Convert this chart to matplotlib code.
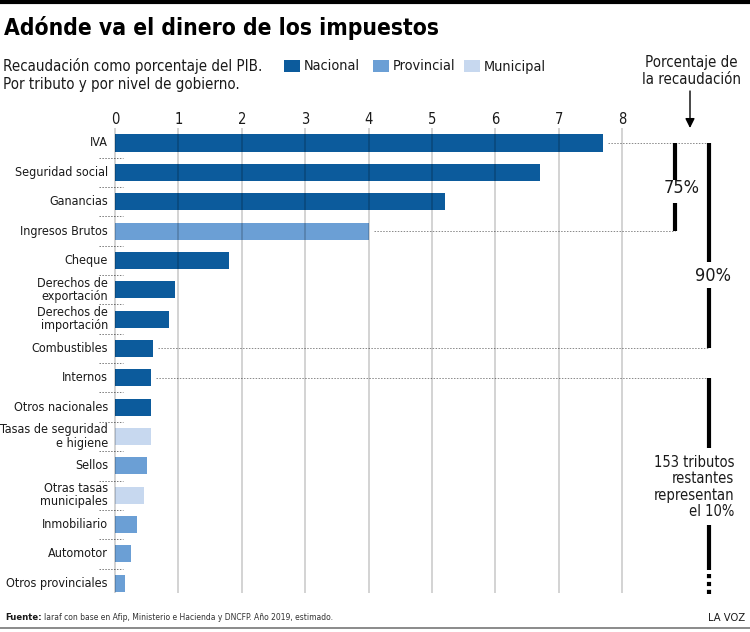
import matplotlib
matplotlib.use("Agg")
import matplotlib.pyplot as plt
from matplotlib import font_manager
from matplotlib.font_manager import FontProperties

# ---------------- data ----------------
categories = ['IVA', 'Seguridad social', 'Ganancias', 'Ingresos Brutos', 'Cheque',
              'Derechos de\nexportación', 'Derechos de\nimportación', 'Combustibles',
              'Internos', 'Otros nacionales', 'Tasas de seguridad\ne higiene', 'Sellos',
              'Otras tasas\nmunicipales', 'Inmobiliario', 'Automotor', 'Otros provinciales']
values = [7.7, 6.7, 5.2, 4.0, 1.8, 0.95, 0.85, 0.6, 0.56, 0.56, 0.56, 0.5, 0.46, 0.35, 0.25, 0.15]
levels = ['Nacional', 'Nacional', 'Nacional', 'Provincial', 'Nacional', 'Nacional', 'Nacional',
          'Nacional', 'Nacional', 'Nacional', 'Municipal', 'Provincial', 'Municipal',
          'Provincial', 'Provincial', 'Provincial']
level_names = ['Nacional', 'Provincial', 'Municipal']
xticks = [0, 1, 2, 3, 4, 5, 6, 7, 8]

colors = {'Nacional': '#0c5b9c', 'Provincial': '#6b9fd5', 'Municipal': '#c7d8ef'}

# ---------------- fonts ----------------
def find_condensed(target):
    best = None
    for f in font_manager.fontManager.ttflist:
        nm = f.name.lower()
        fn = f.fname.lower()
        if 'mono' in nm or 'serif' in nm or f.style != 'normal' or 'cjk' in nm:
            continue
        is_cond = ('condensed' in nm or 'narrow' in nm or 'condensed' in fn
                   or 'narrow' in fn or str(f.stretch) in ('condensed', 'semi-condensed', 'extra-condensed'))
        if not is_cond:
            continue
        w = f.weight if isinstance(f.weight, int) else (700 if 'bold' in str(f.weight) else 400)
        score = abs(w - target) + (50 if 'extra' in fn or 'ultra' in fn else 0)
        if best is None or score < best[0]:
            best = (score, f.fname)
    return best[1] if best else None

reg_file = find_condensed(400)
bold_file = find_condensed(700)
if reg_file:
    FP = lambda s: FontProperties(fname=reg_file, size=s)
    sf = 1.0
else:
    FP = lambda s: FontProperties(family=['Roboto', 'DejaVu Sans'], size=s)
    sf = 0.86
if bold_file:
    FPB = lambda s: FontProperties(fname=bold_file, size=s)
else:
    FPB = lambda s: FontProperties(family=['Roboto', 'DejaVu Sans'], weight='bold', size=s)

W, H = 750, 632
fig = plt.figure(figsize=(W / 100, H / 100), dpi=100)
ax = fig.add_axes([0, 0, 1, 1])

# pixel -> data helpers (layout only)
PX0, PXU = 115.0, 63.4
PY0, PYU = 143.0, 29.35
def X(px):
    return (px - PX0) / PXU
def Y(py):
    return (py - PY0) / PYU

ax.set_xlim(X(0), X(W))
ax.set_ylim(Y(H), Y(0))
ax.axis('off')

ink = '#1a1a1a'
rows = list(range(len(categories)))

# bars
ax.barh(rows, values, height=0.58, color=[colors[l] for l in levels], zorder=2)

# gridlines (on top of bars, translucent)
for t in xticks:
    ax.plot([t, t], [Y(128), Y(593)], color='black', alpha=0.22, lw=1.1, zorder=3,
            solid_capstyle='butt')
    ax.text(t, Y(120), str(t), ha='center', va='center', fontproperties=FP(10.5 * sf), color=ink)

# category labels
for i, c in enumerate(categories):
    ax.text(X(108), i, c, ha='right', va='center', fontproperties=FP(9 * sf), color=ink,
            linespacing=1.0)

# small dotted separators
for i in range(len(categories) - 1):
    ax.plot([X(99), X(123)], [i + 0.5, i + 0.5], color='#777777', lw=0.7,
            ls=(0, (1.5, 1.5)), zorder=1)

# bracket positions
x75 = X(675)
x90 = X(709)

# dotted extension lines
ext = [(0, x90), (3, x75), (7, x90), (8, x90)]
for r, xe in ext:
    ax.plot([values[r] + 0.08, xe], [r, r], color='#888888', lw=0.7,
            ls=(0, (1.5, 1.5)), zorder=1)

lwb = 3.0
# 75% bracket
ax.plot([x75, x75], [0, Y(180)], color='black', lw=lwb, solid_capstyle='butt')
ax.plot([x75, x75], [Y(203), 3], color='black', lw=lwb, solid_capstyle='butt')
ax.text(X(682), Y(188), '75%', ha='center', va='center', fontproperties=FP(13 * sf), color=ink)
# 90% bracket
ax.plot([x90, x90], [0, Y(262)], color='black', lw=lwb, solid_capstyle='butt')
ax.plot([x90, x90], [Y(288), 7], color='black', lw=lwb, solid_capstyle='butt')
ax.text(X(713), Y(276), '90%', ha='center', va='center', fontproperties=FP(13 * sf), color=ink)
# 10% bracket
ax.plot([x90, x90], [8, Y(448)], color='black', lw=lwb, solid_capstyle='butt')
ax.plot([x90, x90], [Y(525), Y(570)], color='black', lw=lwb, solid_capstyle='butt')
ax.plot([x90, x90], [Y(574), Y(594)], color='black', lw=lwb, ls=(0, (1.0, 0.9)),
        solid_capstyle='butt')
ax.text(X(734), Y(487), '153 tributos\nrestantes\nrepresentan\nel 10%', ha='right',
        va='center', fontproperties=FP(10.5 * sf), color=ink, linespacing=1.12)

# top-right header with arrow
ax.text(X(691), Y(71), 'Porcentaje de\nla recaudación', ha='center', va='center',
        fontproperties=FP(10.8 * sf), color=ink, linespacing=1.1)
ax.annotate('', xy=(X(690), Y(128)), xytext=(X(690), Y(91)),
            arrowprops=dict(arrowstyle='-|>', color='black', lw=1.0,
                            mutation_scale=14, shrinkA=0, shrinkB=0))

# title (size fitted to the reference width) and subtitle
ax.plot([X(0), X(W)], [Y(1.5), Y(1.5)], color='black', lw=3, solid_capstyle='butt')
title_text = 'Adónde va el dinero de los impuestos'
tt = ax.text(X(4), Y(28), title_text, ha='left', va='center',
             fontproperties=FPB(16), color='black')
fig.canvas.draw()
r = fig.canvas.get_renderer()
tw = tt.get_window_extent(renderer=r).width
tsize = min(max(16 * 436.0 / tw, 13), 22)
tt.set_fontproperties(FPB(tsize))

ax.text(X(3), Y(66), 'Recaudación como porcentaje del PIB.', ha='left', va='center',
        fontproperties=FP(10.8 * sf), color=ink)
ax.text(X(3), Y(84), 'Por tributo y por nivel de gobierno.', ha='left', va='center',
        fontproperties=FP(10.8 * sf), color=ink)

# legend
leg_x = [284, 373, 464]
for name, lx in zip(level_names, leg_x):
    ax.add_patch(plt.Rectangle((X(lx), Y(72)), X(lx + 16) - X(lx), Y(60) - Y(72),
                               color=colors[name], lw=0))
    ax.text(X(lx + 20), Y(66.5), name, ha='left', va='center', fontproperties=FP(10.4 * sf),
            color=ink)

# footer
ax.plot([X(0), X(W)], [Y(628), Y(628)], color='#777777', lw=1.2)
ft = ax.text(X(5), Y(618), 'Fuente:', ha='left', va='center', fontproperties=FPB(6.8 * sf),
             color=ink)
fig.canvas.draw()
bb = ft.get_window_extent(renderer=fig.canvas.get_renderer())
ax.text(X(bb.x1 + 2), Y(618), 'Iaraf con base en Afip, Ministerio e Hacienda y DNCFP. Año 2019, estimado.',
        ha='left', va='center', fontproperties=FP(6.1 * sf), color='#333333')
ax.text(X(745), Y(618), 'LA VOZ', ha='right', va='center', fontproperties=FP(8 * sf), color=ink)

fig.savefig('out.png', dpi=100)
